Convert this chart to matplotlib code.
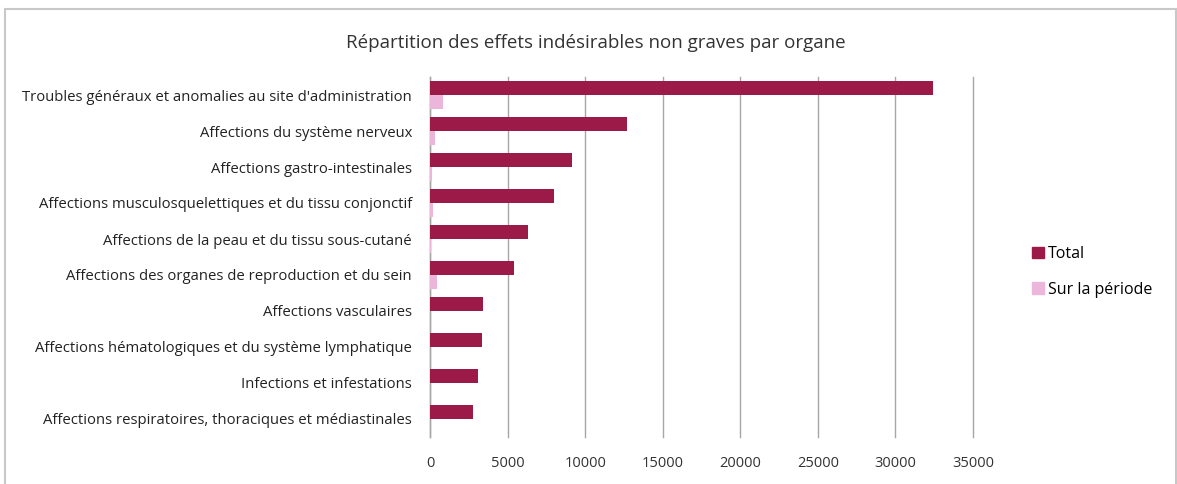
import matplotlib
matplotlib.use("Agg")
import matplotlib.pyplot as plt
from matplotlib.patches import Patch, Rectangle
import numpy as np

plt.rcParams['font.family'] = ['Open Sans', 'DejaVu Sans']

categories = [
    "Troubles généraux et anomalies au site d'administration",
    "Affections du système nerveux",
    "Affections gastro-intestinales",
    "Affections musculosquelettiques et du tissu conjonctif",
    "Affections de la peau et du tissu sous-cutané",
    "Affections des organes de reproduction et du sein",
    "Affections vasculaires",
    "Affections hématologiques et du système lymphatique",
    "Infections et infestations",
    "Affections respiratoires, thoraciques et médiastinales",
]
total = [32400, 12700, 9150, 8000, 6300, 5400, 3400, 3350, 3100, 2800]
periode = [840, 320, 150, 200, 80, 450, 30, 30, 30, 30]
xticks = [0, 5000, 10000, 15000, 20000, 25000, 30000, 35000]

c_total = '#9C1A47'
c_per = '#EBB6DA'

fig = plt.figure(figsize=(11.77, 4.84), dpi=100)
ax = fig.add_axes([430/1177, 1-437/484, (973-430)/1177, (437-77)/484])

y = np.arange(len(categories))
h = 0.38
ax.barh(y - h/2, total, height=h, color=c_total, label='Total', zorder=3)
ax.barh(y + h/2, periode, height=h, color=c_per, label='Sur la période', zorder=3)

ax.set_ylim(len(categories) - 0.5, -0.5)
ax.set_xlim(0, 35000)
ax.set_xticks(xticks)
ax.set_xticklabels([str(t) for t in xticks], fontsize=10.5, color='#333333')
ax.set_yticks(y)
ax.set_yticklabels(categories, fontsize=10.7, color='#222222')
ax.tick_params(axis='both', length=0)
ax.tick_params(axis='x', pad=14)
ax.tick_params(axis='y', pad=13)
ax.grid(axis='x', color='#A6A6A6', linewidth=1, zorder=0)
for gl in ax.get_xgridlines():
    gl.set_clip_on(False)
for s in ['top', 'right', 'bottom']:
    ax.spines[s].set_visible(False)
ax.spines['left'].set_color('#A6A6A6')
ax.spines['left'].set_linewidth(1)

fig.text(596/1177, 1-43/484, "Répartition des effets indésirables non graves par organe",
         ha='center', va='center', fontsize=13.5, color='#333333')

handles = [Patch(color=c_total, label='Total'), Patch(color=c_per, label='Sur la période')]
fig.legend(handles=handles, loc='center left', bbox_to_anchor=(1018/1177, 1-272/484),
           frameon=False, fontsize=11.5, handlelength=0.7, handleheight=0.7,
           handletextpad=0.3, labelspacing=1.2)

fig.patches.append(Rectangle((5/1177, -0.1), (1171)/1177, 1.1 - 9/484,
                             transform=fig.transFigure, fill=False,
                             edgecolor='#C8C8C8', linewidth=1.5))

fig.savefig('out.png', dpi=100)
